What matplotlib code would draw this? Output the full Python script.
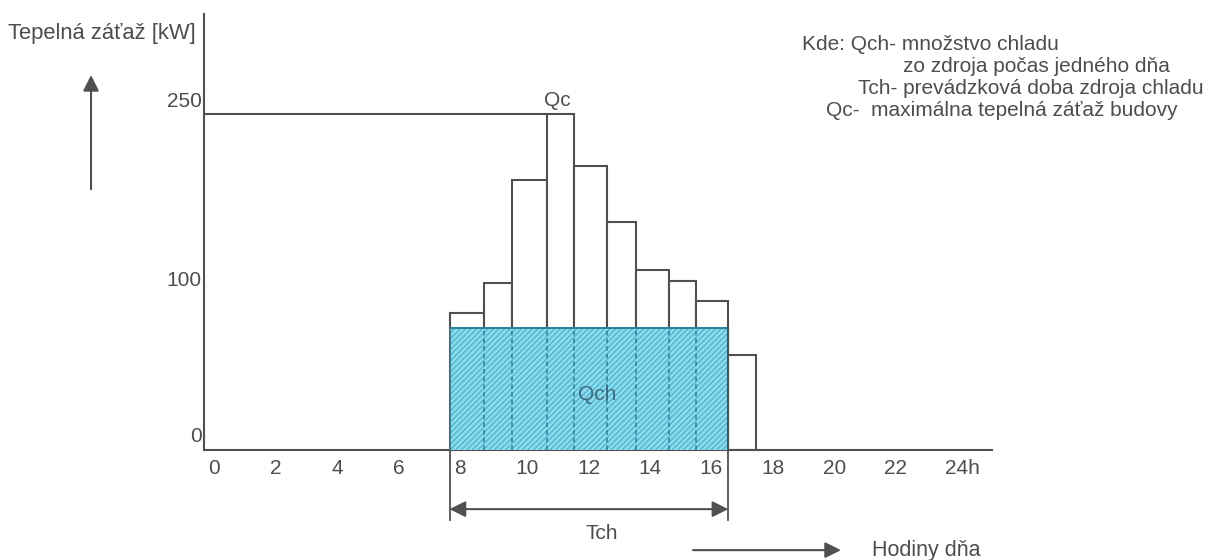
import matplotlib
matplotlib.use("Agg")
import matplotlib.pyplot as plt

# hourly cooling load profile (schematic)
hour_edges = [8, 9.12, 10.02, 11.16, 12.05, 13.12, 14.06, 15.14, 16.03, 17.08, 17.98]
load_kw = [102, 124, 201, 250, 211, 170, 134, 126, 111, 71]
qch_kw = 91          # constant output of the cooling source
qc_kw = 250          # peak load
hour_labels = ["0", "2", "4", "6", "8", "10", "12", "14", "16", "18", "20", "22", "24h"]
hour_ticks = [0, 2, 4, 6, 8, 10, 12, 14, 16, 18, 20, 22, 24]
ytick_labels = ["0", "100", "250"]
legend_lines = [
    "Kde: Qch- množstvo chladu",
    "zo zdroja počas jedného dňa",
    "Tch- prevádzková doba zdroja chladu",
    "Qc-  maximálna tepelná záťaž budovy",
]

plt.rcParams["font.family"] = ["Liberation Sans", "DejaVu Sans"]
plt.rcParams["hatch.linewidth"] = 1.0
GRAY = "#505050"
TXT = "#4d4d4d"
TEAL = "#2a8099"
FS = 15

W, H = 1230, 560
fig = plt.figure(figsize=(W / 100, H / 100), dpi=100)
ax = fig.add_axes([204 / W, 110 / H, 788 / W, 436 / H])
ax.set_xlim(0, 25.67)
ax.set_ylim(0, 324.4)
for s in ("top", "right"):
    ax.spines[s].set_visible(False)
for s in ("left", "bottom"):
    ax.spines[s].set_color(GRAY)
    ax.spines[s].set_linewidth(1.5)
ax.set_xticks([])
ax.set_yticks([])

widths = [b - a for a, b in zip(hour_edges[:-1], hour_edges[1:])]
ax.bar(hour_edges[:-1], load_kw, width=widths, align="edge",
       facecolor="white", edgecolor=GRAY, linewidth=1.5, zorder=2)

# Qch block, hatched
n = len(hour_edges) - 2
ax.bar(hour_edges[0], qch_kw, width=hour_edges[n] - hour_edges[0], align="edge",
       facecolor="#8ddbeb", edgecolor="#4fb6cf", hatch="//////", linewidth=0, zorder=3)
ax.vlines(hour_edges[1:n], 0, qch_kw, colors=TEAL, linestyles=(0, (3, 2)),
          linewidth=1.1, zorder=4)
ax.plot([hour_edges[0], hour_edges[0], hour_edges[n]], [0, qch_kw, qch_kw],
        color=TEAL, linewidth=1.4, zorder=4)
ax.plot([hour_edges[n], hour_edges[n]], [0, qch_kw], color=GRAY, linewidth=1.5, zorder=4)

# peak line to the axis
ax.hlines(qc_kw, 0, hour_edges[3], colors=GRAY, linewidth=1.5, zorder=2)
peak_x = (hour_edges[3] + hour_edges[4]) / 2
ax.text(peak_x - 0.1, qc_kw + 3, "Qc", ha="center", va="bottom", fontsize=FS, color=TXT)
ax.text(12.8, 41, "Qch", ha="center", va="center", fontsize=FS, color="#3c6a7e", zorder=5)

# axis labels as drawn in the sketch
for h, lab in zip(hour_ticks, hour_labels):
    ax.text(h + 0.15, -13.5, lab, ha="left", va="center", fontsize=FS, color=TXT,
            clip_on=False)
for y, lab in zip([10, 126, 259], ytick_labels):
    ax.text(-0.08, y, lab, ha="right", va="center", fontsize=FS, color=TXT, clip_on=False)

ax.text(-6.4, 310, "Tepelná záťaž [kW]", ha="left", va="center", fontsize=15.8,
        color=TXT, clip_on=False)
ax.annotate("", xy=(-3.68, 279), xytext=(-3.68, 194), xycoords="data",
            arrowprops=dict(arrowstyle="-|>", color=GRAY, lw=1.5, mutation_scale=24,
                            shrinkA=0, shrinkB=0),
            annotation_clip=False)

# Tch span
x0, x1 = hour_edges[0], hour_edges[n]
for xv in (x0, x1):
    ax.plot([xv, xv], [0, -52], color=GRAY, linewidth=1.3, clip_on=False)
ax.annotate("", xy=(x0, -44), xytext=(x1, -44),
            arrowprops=dict(arrowstyle="<|-|>", color=GRAY, lw=1.5, mutation_scale=24,
                            shrinkA=0, shrinkB=0),
            annotation_clip=False)
ax.text(12.97, -62, "Tch", ha="center", va="center", fontsize=FS, color=TXT, clip_on=False)

# time direction arrow
ax.annotate("", xy=(20.75, -74.5), xytext=(15.93, -74.5),
            arrowprops=dict(arrowstyle="-|>", color=GRAY, lw=1.5, mutation_scale=24,
                            shrinkA=0, shrinkB=0),
            annotation_clip=False)
ax.text(21.76, -74.5, "Hodiny dňa", ha="left", va="center", fontsize=15.5, color=TXT,
        clip_on=False)

# legend block
leg_x = [802, 903, 858, 826]
for i, (lx, line) in enumerate(zip(leg_x, legend_lines)):
    fig.text(lx / W, 1 - (45 + 22 * i) / H, line, ha="left", va="center",
             fontsize=FS, color=TXT)

fig.savefig("out.png", dpi=100)
